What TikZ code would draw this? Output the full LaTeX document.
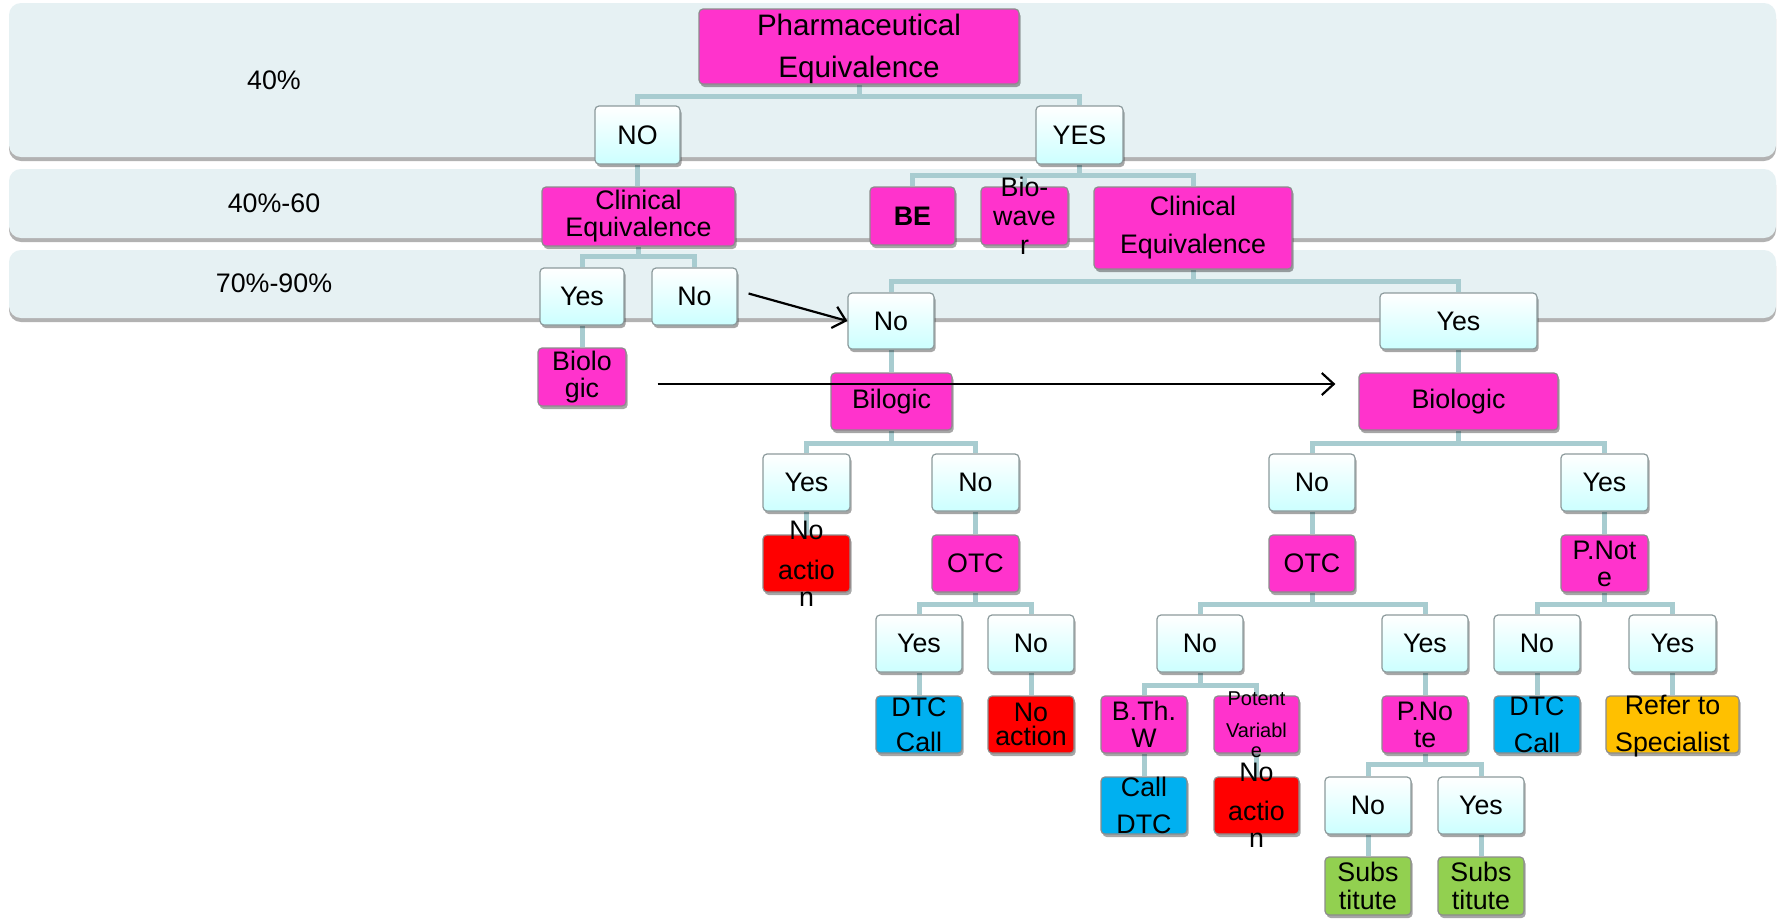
\documentclass[tikz,border=0pt]{standalone}
\usepackage{fontspec}
\setmainfont{Liberation Sans}
\usetikzlibrary{shadows,arrows.meta}
\definecolor{bandc}{HTML}{E6F1F3}
\definecolor{connc}{HTML}{A8CCD0}
\definecolor{magc}{HTML}{FF33CC}
\definecolor{redc}{HTML}{FF0000}
\definecolor{bluec}{HTML}{00B0F0}
\definecolor{orgc}{HTML}{FFC000}
\definecolor{grnc}{HTML}{92D050}
\definecolor{ltc}{HTML}{CCFFFF}
\definecolor{bordc}{HTML}{8C9A9C}
\pgfdeclarelayer{back}
\pgfdeclarelayer{bg}
\pgfsetlayers{back,bg,main}
\begin{document}
\begin{tikzpicture}[x=0.5pt,y=-0.5pt,
 shd/.style={drop shadow={shadow xshift=0.8pt,shadow yshift=-1.5pt,opacity=0.35,fill=black}},
 bx/.style={rectangle,rounded corners=2pt,inner sep=0pt,line width=0.6pt,draw=bordc,shd},
 lt/.style={bx,top color=white,bottom color=ltc},
 mg/.style={bx,fill=magc,draw=black!45},
 rdb/.style={bx,fill=redc,draw=black!45},
 blb/.style={bx,fill=bluec,draw=black!45},
 orb/.style={bx,fill=orgc,draw=black!45},
 gnb/.style={bx,fill=grnc,draw=black!45},
 W/.style={minimum width=#1*0.5pt},
 H/.style={minimum height=#1*0.5pt},
 tx/.style={align=center,inner sep=0pt,font=\fontsize{13.4}{13.5}\selectfont},
 cn/.style={draw=connc,line width=2.5pt},
 ar/.style={draw=black,line width=1.1pt,-{Straight Barb[length=6pt,width=11pt,line width=1.1pt]}},
 bandbox/.style={fill=bandc,rounded corners=6pt,drop shadow={shadow xshift=0pt,shadow yshift=-2pt,opacity=0.3,fill=black}}
]
\begin{pgfonlayer}{back}
\fill[white] (0,0) rectangle (1779,918);
\path[bandbox] (9,3) rectangle (1776,157);
\path[bandbox] (9,169) rectangle (1776,238);
\path[bandbox] (9,250) rectangle (1776,318);
\end{pgfonlayer}
\useasboundingbox (0,0) rectangle (1779,918);

\node[tx] (lab1) at (274,80) {40\%};
\node[tx] (lab2) at (274,203) {40\%-60};
\node[tx] (lab3) at (274,283) {70\%-90\%};

% level coordinates
\coordinate (L1) at (0,96);
\coordinate (L2) at (0,175);
\coordinate (L3) at (0,256);
\coordinate (L4) at (0,281);
\coordinate (L5) at (0,443);
\coordinate (L6) at (0,604);
\coordinate (L7) at (0,685);
\coordinate (L8) at (0,764);

% boxes
\node[mg,W=320,H=75] (pharm) at (859,46.5) {};
\node[tx,font=\fontsize{14.8}{21}\selectfont] (pharmt) at ([yshift=-1pt]pharm.center) {Pharmaceutical\\Equivalence};
\node[lt,W=85,H=58] (no1) at (637.5,135) {};
\node[tx] (no1t) at (no1) {NO};
\node[lt,W=87,H=58] (yes1) at (1079.5,135) {};
\node[tx] (yes1t) at (yes1) {YES};

\node[mg,W=193,H=59] (ceL) at (638.5,216.5) {};
\node[tx] (ceLt) at (ceL) {Clinical\\Equivalence};
\node[mg,W=85,H=58] (be) at (912.5,216) {};
\node[tx,font=\fontsize{13.4}{13.5}\selectfont\bfseries] (bet) at (be) {BE};
\node[mg,W=87,H=58] (bio) at (1024.5,216) {};
\node[tx,font=\fontsize{13.4}{14.5}\selectfont] (biot) at (bio) {Bio-\\wave\\r};
\node[mg,W=198,H=82] (ceR) at (1193,228) {};
\node[tx,font=\fontsize{13.4}{19}\selectfont] (ceRt) at (ceR) {Clinical\\Equivalence};

\node[lt,W=84,H=57] (yesL) at (582,296.5) {};
\node[tx] (yesLt) at (yesL) {Yes};
\node[lt,W=85,H=57] (noL) at (694.5,296.5) {};
\node[tx] (noLt) at (noL) {No};
\node[mg,W=88,H=58] (biolL) at (582,377) {};
\node[tx] (biolLt) at (biolL) {Biolo\\gic};

\node[lt,W=86,H=56] (noM) at (891,321) {};
\node[tx] (noMt) at (noM) {No};
\node[lt,W=157,H=56] (yesR) at (1458.5,321) {};
\node[tx] (yesRt) at (yesR) {Yes};
\node[mg,W=121,H=57] (bilogic) at (891.5,401.5) {};
\node[tx] (bilogict) at (bilogic) {Bilogic};
\node[mg,W=199,H=57] (biolR) at (1458.5,401.5) {};
\node[tx] (biolRt) at (biolR) {Biologic};

\node[lt,W=87,H=57] (yes2) at (806.5,482.5) {};
\node[tx] (yes2t) at (yes2) {Yes};
\node[lt,W=87,H=57] (no2) at (975.5,482.5) {};
\node[tx] (no2t) at (no2) {No};
\node[lt,W=86,H=57] (noR2) at (1312,482.5) {};
\node[tx] (noR2t) at (noR2) {No};
\node[lt,W=87,H=57] (yesR2) at (1604.5,482.5) {};
\node[tx] (yesR2t) at (yesR2) {Yes};

\node[rdb,W=87,H=57] (noact1) at (806.5,563.5) {};
\node[tx] (noact1t) at (noact1) {No\\[6.5pt]actio\\n};
\node[mg,W=87,H=57] (otcM) at (975.5,563.5) {};
\node[tx] (otcMt) at (otcM) {OTC};
\node[mg,W=86,H=57] (otcR) at (1312,563.5) {};
\node[tx] (otcRt) at (otcR) {OTC};
\node[mg,W=87,H=57] (pnoteR) at (1604.5,563.5) {};
\node[tx] (pnoteRt) at (pnoteR) {P.Not\\e};

\node[lt,W=86,H=57] (yes3) at (919,643.5) {};
\node[tx] (yes3t) at (yes3) {Yes};
\node[lt,W=86,H=57] (no3) at (1031,643.5) {};
\node[tx] (no3t) at (no3) {No};
\node[lt,W=86,H=57] (no4) at (1200,643.5) {};
\node[tx] (no4t) at (no4) {No};
\node[lt,W=86,H=57] (yes4) at (1425,643.5) {};
\node[tx] (yes4t) at (yes4) {Yes};
\node[lt,W=86,H=57] (no5) at (1537,643.5) {};
\node[tx] (no5t) at (no5) {No};
\node[lt,W=87,H=57] (yes5) at (1672.5,643.5) {};
\node[tx] (yes5t) at (yes5) {Yes};

\node[blb,W=86,H=57] (dtc1) at (919,724.5) {};
\node[tx,font=\fontsize{13.4}{17.5}\selectfont] (dtc1t) at (dtc1) {DTC\\Call};
\node[rdb,W=86,H=57] (noact2) at (1031,724.5) {};
\node[tx,font=\fontsize{13.4}{12}\selectfont] (noact2t) at (noact2) {No\\action};
\node[mg,W=86,H=57] (bthw) at (1144,724.5) {};
\node[tx] (bthwt) at (bthw) {B.Th.\\W};
\node[mg,W=85,H=57] (potent) at (1256.5,724.5) {};
\node[tx,font=\fontsize{10}{10}\selectfont] (potentt) at (potent) {Potent\\[6pt]Variabl\\e};
\node[mg,W=86,H=57] (pnote2) at (1425,724.5) {};
\node[tx] (pnote2t) at (pnote2) {P.No\\te};
\node[blb,W=86,H=57] (dtc2) at (1537,724.5) {};
\node[tx,font=\fontsize{13.4}{18.5}\selectfont] (dtc2t) at (dtc2) {DTC\\Call};
\node[orb,W=133,H=57] (refer) at (1672.5,724.5) {};
\node[tx,font=\fontsize{13.4}{18.5}\selectfont] (refert) at ([yshift=-1pt]refer.center) {Refer to\\Specialist};

\node[blb,W=86,H=57] (calldtc) at (1144,805.5) {};
\node[tx,font=\fontsize{13.4}{18.5}\selectfont] (calldtct) at (calldtc) {Call\\DTC};
\node[rdb,W=85,H=57] (noact3) at (1256.5,805.5) {};
\node[tx] (noact3t) at (noact3) {No\\[6pt]actio\\n};
\node[lt,W=86,H=57] (no6) at (1368,805.5) {};
\node[tx] (no6t) at (no6) {No};
\node[lt,W=86,H=57] (yes6) at (1481,805.5) {};
\node[tx] (yes6t) at (yes6) {Yes};

\node[gnb,W=86,H=58] (subs1) at (1368,886) {};
\node[tx,font=\fontsize{13.4}{14}\selectfont] (subs1t) at (subs1) {Subs\\titute};
\node[gnb,W=86,H=58] (subs2) at (1481,886) {};
\node[tx,font=\fontsize{13.4}{14}\selectfont] (subs2t) at (subs2) {Subs\\titute};

% connectors
\begin{pgfonlayer}{bg}
\draw[cn] (pharm.south) -- (pharm.south |- L1);
\draw[cn] (no1.north) |- (yes1.north |- L1) -- (yes1.north);
\draw[cn] (no1.south) -- (no1.south |- ceL.north);
\draw[cn] (yes1.south) -- (yes1.south |- L2);
\draw[cn] (be.north) |- (ceR.north |- L2) -- (ceR.north);
\draw[cn] (bio.north) -- (bio.north |- L2);
\draw[cn] (ceL.south) -- (ceL.south |- L3);
\draw[cn] (yesL.north) |- (noL.north |- L3) -- (noL.north);
\draw[cn] (yesL.south) -- (yesL.south |- biolL.north);
\draw[cn] (ceR.south) -- (ceR.south |- L4);
\draw[cn] (noM.north) |- (yesR.north |- L4) -- (yesR.north);
\draw[cn] (noM.south) -- (noM.south |- bilogic.north);
\draw[cn] (yesR.south) -- (yesR.south |- biolR.north);
\draw[cn] (bilogic.south) -- (bilogic.south |- L5);
\draw[cn] (yes2.north) |- (no2.north |- L5) -- (no2.north);
\draw[cn] (biolR.south) -- (biolR.south |- L5);
\draw[cn] (noR2.north) |- (yesR2.north |- L5) -- (yesR2.north);
\draw[cn] (yes2.south) -- (noact1.north);
\draw[cn] (no2.south) -- (otcM.north);
\draw[cn] (noR2.south) -- (otcR.north);
\draw[cn] (yesR2.south) -- (pnoteR.north);
\draw[cn] (otcM.south) -- (otcM.south |- L6);
\draw[cn] (yes3.north) |- (no3.north |- L6) -- (no3.north);
\draw[cn] (otcR.south) -- (otcR.south |- L6);
\draw[cn] (no4.north) |- (yes4.north |- L6) -- (yes4.north);
\draw[cn] (pnoteR.south) -- (pnoteR.south |- L6);
\draw[cn] (no5.north) |- (yes5.north |- L6) -- (yes5.north);
\draw[cn] (yes3.south) -- (dtc1.north);
\draw[cn] (no3.south) -- (noact2.north);
\draw[cn] (no4.south) -- (no4.south |- L7);
\draw[cn] (bthw.north) |- (potent.north |- L7) -- (potent.north);
\draw[cn] (yes4.south) -- (pnote2.north);
\draw[cn] (no5.south) -- (dtc2.north);
\draw[cn] (yes5.south) -- (refer.north);
\draw[cn] (bthw.south) -- (calldtc.north);
\draw[cn] (potent.south) -- (noact3.north);
\draw[cn] (pnote2.south) -- (pnote2.south |- L8);
\draw[cn] (no6.north) |- (yes6.north |- L8) -- (yes6.north);
\draw[cn] (no6.south) -- (subs1.north);
\draw[cn] (yes6.south) -- (subs2.north);
\end{pgfonlayer}

% arrows
\coordinate (a1) at ([xshift=5.5pt,yshift=1.5pt]noL.east);
\draw[ar] (a1) -- (noM.west);
\coordinate (b1) at ([xshift=15.5pt,yshift=-3.5pt]biolL.east);
\coordinate (b2) at ([xshift=-11.5pt]biolR.west);
\draw[ar] (b1) -- (b2 |- b1);
\end{tikzpicture}
\end{document}
